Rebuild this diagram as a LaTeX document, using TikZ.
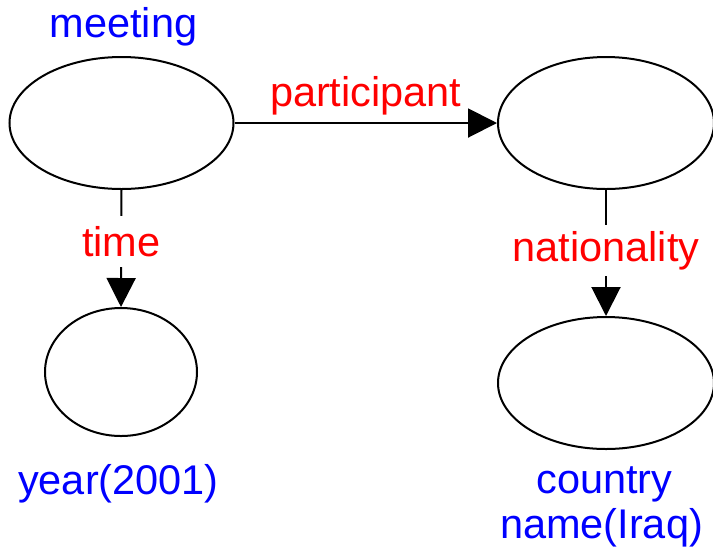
\documentclass[tikz,border=0pt]{standalone}
\usepackage{fontspec}
\setmainfont{Liberation Sans}
\usetikzlibrary{shapes.geometric,arrows.meta}

\begin{document}
\begin{tikzpicture}[x=0.5pt,y=-0.5pt,line width=1pt,
  every node/.style={font=\fontsize{20.75}{25}\selectfont},
  ent/.style={ellipse,draw=black,inner sep=0pt},
  concept/.style={text=blue,anchor=base},
  rel/.style={text=red,fill=white},
  >={Triangle[length=14.5pt,width=14.5pt]}]
\useasboundingbox (0,0) rectangle (713,548);

\node[ent,minimum width=112pt,minimum height=66pt] (meeting) at (121.5,123) {};
\node[ent,minimum width=108pt,minimum height=66pt] (person) at (606,123) {};
\node[ent,minimum width=76pt,minimum height=64pt] (year) at (121,372) {};
\node[ent,minimum width=108pt,minimum height=66pt] (country) at (606,383) {};

\node[concept] (meetinglbl) at (123.5,37) {meeting};
\node[concept] (yearlbl) at (118.5,494) {year(2001)};
\node[concept] (countrylbl) at (604.5,493) {country};
\node[concept] (namelbl) at (601.5,538) {name(Iraq)};

\draw[->] (meeting.east) -- (person.west) node[midway,above,text=red,inner sep=3.5pt] {participant};
\draw[->] (meeting.south) -- (year.north) node[rel,pos=0.44,inner sep=5pt] {time};
\draw[->] (person.south) -- (country.north) node[rel,pos=0.48,inner sep=3pt] {nationality};
\end{tikzpicture}
\end{document}
